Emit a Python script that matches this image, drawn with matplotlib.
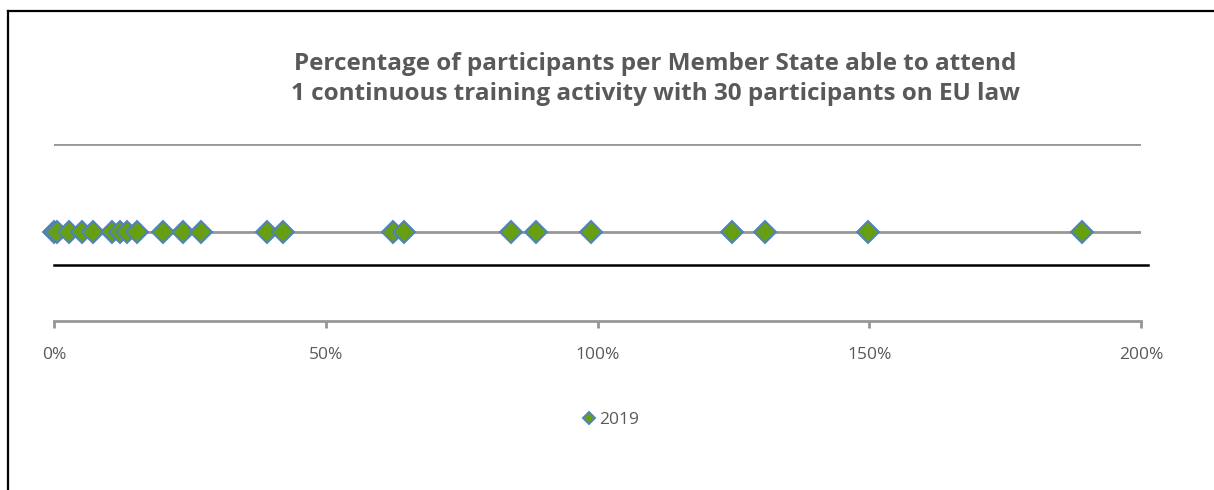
import matplotlib
matplotlib.use("Agg")
import matplotlib.pyplot as plt
from matplotlib.lines import Line2D
from matplotlib.ticker import FuncFormatter

plt.rcParams["font.family"] = ["Open Sans", "DejaVu Sans"]

# share of participants per Member State (%)
participants_pct = [0.0, 0.6, 2.8, 5.2, 7.2, 10.7, 12.1, 13.4, 15.3, 20.1, 23.7, 27.0,
                    39.2, 42.1, 62.4, 64.4, 84.1, 88.7, 98.8, 124.7, 130.8, 149.8, 189.1]
series_label = "2019"
x_ticks = [0, 50, 100, 150, 200]
title = ("Percentage of participants per Member State able to attend\n"
         "1 continuous training activity with 30 participants on EU law")

grey_text = "#595959"
grid_grey = "#979797"

fig = plt.figure(figsize=(12.14, 4.9), dpi=100)
ax = fig.add_axes([54 / 1214, 1 - 320.7 / 490, 1087 / 1214, 176.4 / 490])

y_vals = [1] * len(participants_pct)
ax.plot(participants_pct, y_vals, linestyle="none", marker="D", markersize=11,
        markerfacecolor="#66a012", markeredgecolor="#4f81bd", markeredgewidth=1.4,
        label=series_label, zorder=3, clip_on=False)

# gridlines and the black reference line
for gy in [1, 2]:
    ax.axhline(gy, color=grid_grey, linewidth=2, zorder=1)
ref_y = 0.628
ax.plot([0, 201.2], [ref_y, ref_y], color="black", linewidth=1.8, clip_on=False, zorder=2)

ax.set_xlim(0, 200)
ax.set_ylim(0, 2)
ax.set_xticks(x_ticks)
ax.xaxis.set_major_formatter(FuncFormatter(lambda v, _: f"{v:.0f}%"))
ax.set_yticks([])
for side in ["top", "right", "left"]:
    ax.spines[side].set_visible(False)
ax.spines["bottom"].set_color(grid_grey)
ax.spines["bottom"].set_linewidth(2)
ax.tick_params(axis="x", direction="out", length=5, width=2, color=grid_grey,
               labelcolor=grey_text, labelsize=12.5, pad=14)

fig.text(0.54, 0.838, title, ha="center", va="center", fontsize=17.5,
         fontweight="bold", color=grey_text, linespacing=1.33)

handles, labels = ax.get_legend_handles_labels()
leg = fig.legend(handles, labels, loc="center", bbox_to_anchor=(0.502, 0.143),
                 frameon=False, fontsize=12.5, handletextpad=0.1, markerscale=0.52,
                 handlelength=1.0)
for t in leg.get_texts():
    t.set_color(grey_text)

# chart border (left and top edges visible)
fig.add_artist(Line2D([8 / 1214, 8 / 1214], [0, 1 - 11 / 490], color="black", linewidth=1.6))
fig.add_artist(Line2D([8 / 1214, 1], [1 - 11 / 490, 1 - 11 / 490], color="black", linewidth=1.6))

fig.savefig("out.png", dpi=100)
